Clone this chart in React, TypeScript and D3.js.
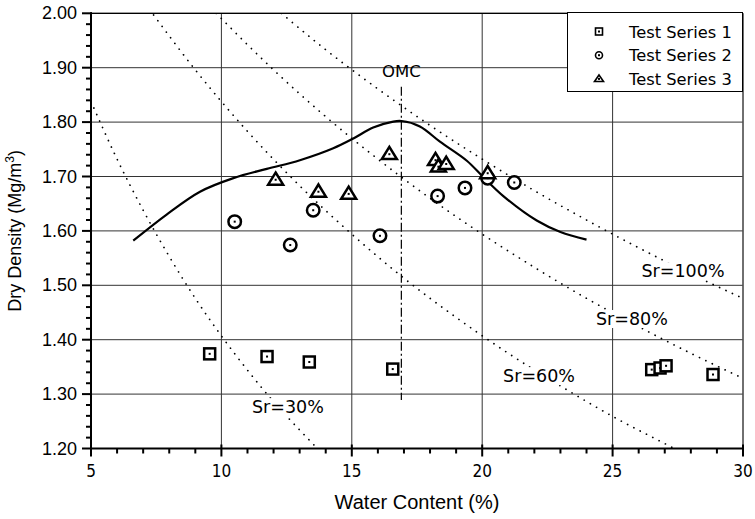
import React, { useEffect, useRef } from "react";
import * as d3 from "d3";

// DATA
const series1W = [9.55, 11.75, 13.37, 16.57, 26.5, 26.82, 27.05, 28.85];
const series1D = [1.374, 1.369, 1.359, 1.346, 1.345, 1.348, 1.352, 1.336];

const series2W = [10.51, 12.64, 13.52, 16.08, 18.29, 19.34, 20.21, 21.23];
const series2D = [1.617, 1.574, 1.638, 1.591, 1.664, 1.679, 1.697, 1.689];

const series3W = [12.08, 13.72, 14.88, 16.44, 18.21, 18.32, 18.62, 20.21];
const series3D = [1.694, 1.672, 1.668, 1.741, 1.73, 1.718, 1.723, 1.706];

// compaction curve
const curveW = [6.62, 7.9, 9.18, 10.46, 11.74, 13.01, 14.29, 15.06, 15.82, 16.59, 16.91, 17.61, 18.38, 19.41, 20.04, 20.81, 22.09, 23.0, 24.0];
const curveD = [1.582, 1.63, 1.672, 1.697, 1.714, 1.73, 1.752, 1.77, 1.79, 1.801, 1.802, 1.792, 1.764, 1.729, 1.699, 1.664, 1.619, 1.598, 1.584];

// saturation lines
const sr100W = [12.3, 14, 16, 18, 20, 22, 24, 26, 28, 30];
const sr100D = [2.0, 1.933, 1.861, 1.794, 1.732, 1.674, 1.62, 1.569, 1.521, 1.476];
const sr80W = [9.8, 12, 14, 16, 18, 20, 22, 24, 26, 28, 30];
const sr80D = [2.0, 1.896, 1.81, 1.732, 1.66, 1.594, 1.533, 1.476, 1.424, 1.375, 1.329];
const sr60W = [7.4, 9, 11, 13, 15, 17, 19, 21, 23, 25, 27, 27.4];
const sr60D = [1.997, 1.896, 1.783, 1.683, 1.594, 1.513, 1.441, 1.375, 1.315, 1.259, 1.209, 1.199];
const sr30W = [5, 6, 7, 8, 9, 10, 11, 12, 13, 13.6];
const sr30D = [1.838, 1.732, 1.638, 1.553, 1.476, 1.407, 1.344, 1.286, 1.234, 1.204];

const srLabels = ["Sr=30%", "Sr=60%", "Sr=80%", "Sr=100%"];
const srLabelW = [12.55, 22.18, 25.74, 27.7];
const srLabelD = [1.265, 1.322, 1.427, 1.515];

const omcW = 16.9;
const omcTop = 1.865;
const omcBottom = 1.289;

const legendNames = ["Test Series 1", "Test Series 2", "Test Series 3"];

const xTicks = [5, 10, 15, 20, 25, 30];
const yTicks = [1.2, 1.3, 1.4, 1.5, 1.6, 1.7, 1.8, 1.9, 2.0];

export default function App() {
  const ref = useRef<SVGSVGElement>(null);

  useEffect(() => {
    document.body.style.margin = "0";
    const svg = d3.select(ref.current);
    svg.selectAll("*").remove();

    const left = 91, right = 743, top = 13.3, bottom = 448.5;
    const x = d3.scaleLinear().domain([5, 30]).range([left, right]);
    const y = d3.scaleLinear().domain([1.2, 2.0]).range([bottom, top]);

    svg.append("rect").attr("width", 755).attr("height", 519).attr("fill", "#fff");

    const clip = svg.append("defs").append("clipPath").attr("id", "plot");
    clip.append("rect").attr("x", left).attr("y", top).attr("width", right - left).attr("height", bottom - top);

    // GRID
    svg.append("g")
      .selectAll("line")
      .data(xTicks.slice(1))
      .join("line")
      .attr("x1", (d) => x(d)).attr("x2", (d) => x(d))
      .attr("y1", top).attr("y2", bottom)
      .attr("stroke", "#333").attr("stroke-width", 1);
    svg.append("g")
      .selectAll("line")
      .data(yTicks.slice(1))
      .join("line")
      .attr("x1", left).attr("x2", right)
      .attr("y1", (d) => y(d)).attr("y2", (d) => y(d))
      .attr("stroke", "#333").attr("stroke-width", 1);

    const plot = svg.append("g").attr("clip-path", "url(#plot)");

    // SATURATION LINES
    const zip = (w: number[], dd: number[]) => w.map((v, i) => [v, dd[i]] as [number, number]);
    const line = d3.line<[number, number]>()
      .x((d) => x(d[0]))
      .y((d) => y(d[1]))
      .curve(d3.curveMonotoneX);
    [zip(sr100W, sr100D), zip(sr80W, sr80D), zip(sr60W, sr60D), zip(sr30W, sr30D)].forEach((pts) => {
      plot.append("path")
        .attr("d", line(pts))
        .attr("fill", "none")
        .attr("stroke", "#000")
        .attr("stroke-width", 1.7)
        .attr("stroke-linecap", "round")
        .attr("stroke-dasharray", "0.1 7");
    });

    // Sr labels (white box knocks out grid and dotted line)
    const srG = svg.append("g");
    srLabels.forEach((lab, i) => {
      const t = srG.append("text")
        .attr("x", x(srLabelW[i]))
        .attr("y", y(srLabelD[i]))
        .attr("text-anchor", "middle")
        .attr("font-family", "DejaVu Sans").attr("font-size", 17.5)
        .attr("fill", "#000")
        .text(lab);
      const bb = (t.node() as SVGTextElement).getBBox();
      srG.insert("rect", () => t.node())
        .attr("x", bb.x - 1).attr("y", bb.y + 1).attr("width", bb.width + 2).attr("height", bb.height - 2)
        .attr("fill", "#fff");
    });

    // OMC line
    svg.append("line")
      .attr("x1", x(omcW)).attr("x2", x(omcW))
      .attr("y1", y(omcTop)).attr("y2", y(omcBottom))
      .attr("stroke", "#000").attr("stroke-width", 1.2)
      .attr("stroke-dasharray", "9 3 2 3");
    svg.append("text")
      .attr("x", x(omcW)).attr("y", y(omcTop) - 10)
      .attr("text-anchor", "middle")
      .attr("font-family", "DejaVu Sans").attr("font-size", 16.5)
      .text("OMC");

    // COMPACTION CURVE
    plot.append("path")
      .attr("d", d3.line<[number, number]>().x((d) => x(d[0])).y((d) => y(d[1])).curve(d3.curveCatmullRom)(zip(curveW, curveD)))
      .attr("fill", "none").attr("stroke", "#000").attr("stroke-width", 2.2);

    // MARKERS
    const drawMarker = (g: any, kind: number, cx: number, cy: number, s: number, sw: number) => {
      if (kind === 0) {
        g.append("rect").attr("x", cx - s / 2).attr("y", cy - s / 2).attr("width", s).attr("height", s)
          .attr("fill", "#fff").attr("stroke", "#000").attr("stroke-width", sw);
      } else if (kind === 1) {
        g.append("circle").attr("cx", cx).attr("cy", cy).attr("r", s / 2)
          .attr("fill", "#fff").attr("stroke", "#000").attr("stroke-width", sw);
      } else {
        const h = s * 0.9;
        g.append("path")
          .attr("d", `M${cx},${cy - h * 0.62}L${cx + s / 2 + 1},${cy + h * 0.42}L${cx - s / 2 - 1},${cy + h * 0.42}Z`)
          .attr("fill", "#fff").attr("stroke", "#000").attr("stroke-width", sw).attr("stroke-linejoin", "miter");
      }
      g.append("rect").attr("x", cx - 1).attr("y", cy - 1).attr("width", 2).attr("height", 2).attr("fill", "#000");
    };

    const mk = svg.append("g");
    series1W.forEach((w, i) => drawMarker(mk, 0, x(w), y(series1D[i]), 11, 2.5));
    series2W.forEach((w, i) => drawMarker(mk, 1, x(w), y(series2D[i]), 12.5, 2.5));
    series3W.forEach((w, i) => drawMarker(mk, 2, x(w), y(series3D[i]), 13, 2.5));

    // FRAME
    svg.append("line").attr("x1", left).attr("x2", right).attr("y1", top).attr("y2", top).attr("stroke", "#000").attr("stroke-width", 1.2);
    svg.append("line").attr("x1", right).attr("x2", right).attr("y1", top).attr("y2", bottom).attr("stroke", "#555").attr("stroke-width", 1.2);

    // X AXIS
    const xMinor = d3.range(5, 31, 1);
    svg.append("g").selectAll("line").data(xMinor).join("line")
      .attr("x1", (d) => x(d)).attr("x2", (d) => x(d))
      .attr("y1", (d) => (d % 5 === 0 ? bottom - 4 : bottom))
      .attr("y2", (d) => (d % 5 === 0 ? bottom + 8 : bottom + 5))
      .attr("stroke", "#000").attr("stroke-width", 2);
    svg.append("line").attr("x1", left - 1).attr("x2", right + 1).attr("y1", bottom).attr("y2", bottom)
      .attr("stroke", "#000").attr("stroke-width", 2);
    svg.append("g").selectAll("text").data(xTicks).join("text")
      .attr("x", (d) => x(d)).attr("y", bottom + 28)
      .attr("text-anchor", "middle")
      .attr("font-family", "DejaVu Sans Condensed, DejaVu Sans").attr("font-size", 17)
      .text((d) => d3.format("d")(d));
    svg.append("text")
      .attr("x", (left + right) / 2).attr("y", 509)
      .attr("text-anchor", "middle")
      .attr("font-family", "Liberation Sans, Arial").attr("font-size", 20)
      .text("Water Content (%)");

    // Y AXIS
    const yMinor = d3.range(0, 41).map((i) => 1.2 + i * 0.02);
    svg.append("g").selectAll("line").data(yMinor).join("line")
      .attr("x1", (d, i) => (i % 5 === 0 ? left - 9 : left - 5))
      .attr("x2", left + 1)
      .attr("y1", (d) => y(d)).attr("y2", (d) => y(d))
      .attr("stroke", "#000").attr("stroke-width", 2);
    svg.append("line").attr("x1", left).attr("x2", left).attr("y1", top - 1).attr("y2", bottom + 1)
      .attr("stroke", "#000").attr("stroke-width", 2);
    svg.append("g").selectAll("text").data(yTicks).join("text")
      .attr("x", left - 14).attr("y", (d) => y(d) + 6)
      .attr("text-anchor", "end")
      .attr("font-family", "Liberation Sans, Arial").attr("font-size", 18)
      .text((d) => d3.format(".2f")(d));
    const yt = svg.append("text")
      .attr("transform", `translate(21,${(top + bottom) / 2}) rotate(-90)`)
      .attr("text-anchor", "middle")
      .attr("font-family", "Liberation Sans, Arial").attr("font-size", 18);
    yt.append("tspan").text("Dry Density (Mg/m");
    yt.append("tspan").attr("dy", -7).attr("font-size", 12).text("3");
    yt.append("tspan").attr("dy", 7).text(")");

    // LEGEND
    const lg = svg.append("g");
    lg.append("rect").attr("x", 567.5).attr("y", 12.5).attr("width", 175).attr("height", 79)
      .attr("fill", "#fff").attr("stroke", "#000").attr("stroke-width", 1);
    legendNames.forEach((name, i) => {
      const cy = 31.5 + i * 23.7;
      drawMarker(lg, i, 599, cy, 7, 1.6);
      lg.append("text").attr("x", 629).attr("y", cy + 6)
        .attr("font-family", "DejaVu Sans").attr("font-size", 16.3)
        .text(name);
    });
  }, []);

  return <svg ref={ref} width={755} height={519} style={{ display: "block" }} />;
}
